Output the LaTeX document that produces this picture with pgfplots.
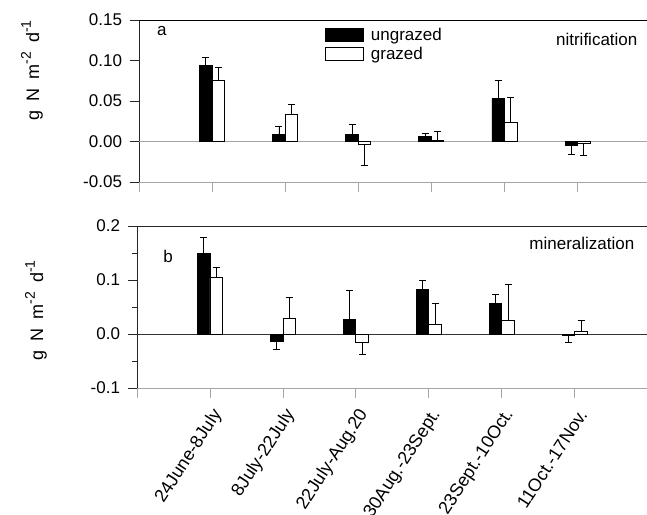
\documentclass[border=0pt]{standalone}
\usepackage{pgfplots}
\pgfplotsset{compat=1.18}
\usepackage{fontspec}
\setmainfont{Liberation Sans}

\newcommand{\fs}[1]{\fontsize{#1}{#1}\selectfont}
\newcommand{\ylab}{g\hspace{0.5em}N\hspace{0.5em}m\raisebox{0.45em}{\fs{14}-2}\hspace{0.5em}d\raisebox{0.45em}{\fs{14}-1}}

\pgfplotsset{
  panel/.style={
    scale only axis,
    height=162pt,
    axis x line*=bottom,
    axis y line*=left,
    x axis line style={gray!70,-,line width=0.8pt},
    y axis line style={black!85,-,line width=0.8pt},
    xmin=0,
    xtick={0,1,2,3,4,5,6},
    tick align=outside,
    major tick length=9.5pt,
    minor tick length=5pt,
    x tick style={gray!70,line width=0.8pt},
    y tick style={black!85,line width=0.8pt},
    /pgf/number format/assume math mode=true,
    yticklabel style={font=\fs{17}, xshift=-4pt},
    clip=false,
  },
  ungr/.style={ybar, bar width=12.5pt, bar shift=0pt, fill=black, draw=black, line width=0.8pt,
    error bars/.cd, y dir=both, y explicit,
    error bar style={black,line width=0.8pt},
    error mark options={black,mark size=3.5pt,line width=0.8pt,rotate=90}},
  gr/.style={ybar, bar width=12.5pt, bar shift=0pt, fill=white, draw=black, line width=0.8pt,
    error bars/.cd, y dir=both, y explicit,
    error bar style={black,line width=0.8pt},
    error mark options={black,mark size=3.5pt,line width=0.8pt,rotate=90}},
}

\begin{document}
\begin{tikzpicture}
\useasboundingbox (0,0) rectangle (647pt,-514pt);

% panel a
\begin{axis}[panel,
  at={(139pt,-182pt)}, anchor=south west,
  width=508pt, xmax=6.95,
  ymin=-0.05, ymax=0.15,
  ytick={-0.05,0,0.05,0.1,0.15},
  yticklabel style={/pgf/number format/.cd,fixed,fixed zerofill,precision=2},
  xticklabels={},
  legend style={draw=none, fill=none, at={(0.366,0.965)}, anchor=north west,
    inner sep=0pt, font=\fs{17}, row sep=1pt, legend cell align=left,
    /tikz/every even column/.append style={column sep=9pt}},
  legend image code/.code={\draw[#1,line width=0.8pt] (0pt,-6.5pt) rectangle (38pt,6.5pt);},
]
\draw[gray!70,line width=0.8pt] (axis cs:0,0) -- (axis cs:6.95,0);
\draw[black,line width=0.8pt] (rel axis cs:0,1) -- (rel axis cs:1,1);
\addplot[ungr] coordinates {
  (0.9144,0.094) += (0,0.010) -= (0,0)
  (1.9144,0.009) += (0,0.010) -= (0,0)
  (2.9144,0.009) += (0,0.0115) -= (0,0)
  (3.9144,0.006) += (0,0.0035) -= (0,0)
  (4.9144,0.053) += (0,0.022) -= (0,0)
  (5.9144,-0.0045) += (0,0) -= (0,0.011)
};
\addlegendentry{\hspace{5pt}ungrazed}
\addplot[gr] coordinates {
  (1.0856,0.076) += (0,0.015) -= (0,0)
  (2.0856,0.033) += (0,0.013) -= (0,0)
  (3.0856,-0.003) += (0,0) -= (0,0.026)
  (4.0856,0.001) += (0,0.012) -= (0,0)
  (5.0856,0.023) += (0,0.032) -= (0,0)
  (6.0856,-0.002) += (0,0) -= (0,0.015)
};
\addlegendentry{\hspace{5pt}grazed}
\node[font=\fs{17}] at (rel axis cs:0.045,0.932) {a};
\node[font=\fs{17},anchor=east] at (rel axis cs:0.988,0.883) {nitrification};
\node[rotate=90,font=\fs{18}] at ([xshift=-107pt]rel axis cs:0,0.69) {\ylab};
\end{axis}

% panel b
\begin{axis}[panel,
  at={(137pt,-388pt)}, anchor=south west,
  width=510pt, xmax=6.99,
  ymin=-0.1, ymax=0.2,
  ytick={-0.1,0,0.1,0.2},
  minor ytick={-0.05,0.05,0.15},
  yticklabel style={/pgf/number format/.cd,fixed,fixed zerofill,precision=1},
  xticklabels={,24June-8July,8July-22July,22July-Aug.20,30Aug.-23Sept.,23Sept.-10Oct.,11Oct.-17Nov.},
  xticklabel style={xshift=10pt, yshift=-11pt, rotate=57, anchor=east, font=\fs{18}},
]
\draw[black!80,line width=0.8pt] (axis cs:0,0) -- (axis cs:6.99,0);
\draw[black!85,line width=0.8pt] (rel axis cs:0,1) -- (rel axis cs:1,1);
\addplot[ungr] coordinates {
  (0.9144,0.149) += (0,0.029) -= (0,0)
  (1.9144,-0.014) += (0,0) -= (0,0.014)
  (2.9144,0.027) += (0,0.054) -= (0,0)
  (3.9144,0.082) += (0,0.018) -= (0,0)
  (4.9144,0.056) += (0,0.017) -= (0,0)
  (5.9144,-0.002) += (0,0) -= (0,0.014)
};
\addplot[gr] coordinates {
  (1.0856,0.104) += (0,0.019) -= (0,0)
  (2.0856,0.029) += (0,0.038) -= (0,0)
  (3.0856,-0.015) += (0,0) -= (0,0.023)
  (4.0856,0.018) += (0,0.039) -= (0,0)
  (5.0856,0.025) += (0,0.067) -= (0,0)
  (6.0856,0.004) += (0,0.021) -= (0,0)
};
\node[font=\fs{17}] at (rel axis cs:0.061,0.815) {b};
\node[font=\fs{17},anchor=east] at (rel axis cs:0.982,0.895) {mineralization};
\node[rotate=90,font=\fs{18}] at ([xshift=-101pt]rel axis cs:0,0.48) {\ylab};
\end{axis}
\end{tikzpicture}
\end{document}
